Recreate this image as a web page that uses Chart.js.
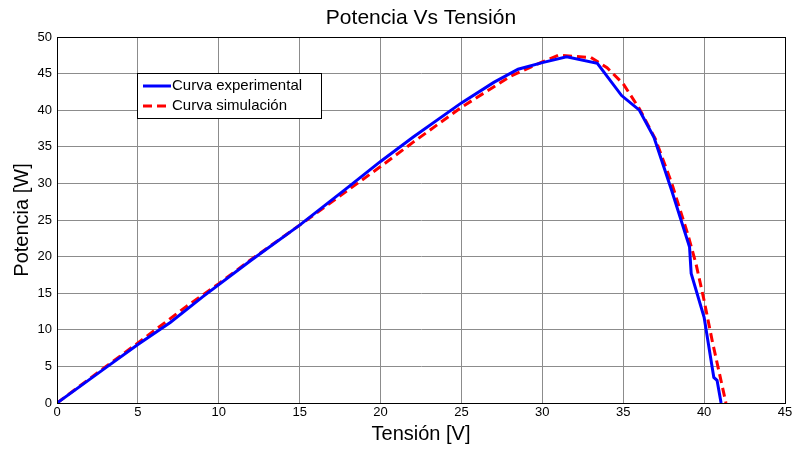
<!DOCTYPE html>
<html>
<head>
<meta charset="utf-8">
<script src="https://cdn.jsdelivr.net/npm/chart.js@4.4.1/dist/chart.umd.min.js"></script>
<style>
  html, body { margin: 0; padding: 0; background: #fff; }
  #wrap { width: 797px; height: 449px; }
</style>
</head>
<body>
<div id="wrap"><canvas id="grafico"></canvas></div>
<script>
// curva medida en el panel
const tensionExp = [0, 3, 5, 7, 9, 12, 15, 18, 20, 22, 25, 27, 28.5, 30, 31.5, 33.4, 34.9, 36, 36.9, 38, 39.1, 39.2, 40, 40.6, 40.8, 41.05];
const potenciaExp = [0, 4.8, 8, 11, 14.5, 19.5, 24.3, 29.5, 33, 36.3, 41, 43.8, 45.6, 46.5, 47.3, 46.4, 42, 40, 36.3, 29, 21.3, 17.7, 11.7, 3.5, 3.1, 0];

// curva del modelo
const tensionSim = [0, 2, 5, 8, 10, 12, 15, 18, 20, 22, 25, 28, 30, 31, 33, 34, 35, 36, 37, 38, 39, 39.5, 40, 40.5, 41, 41.35];
const potenciaSim = [0, 3.3, 8.2, 13.2, 16.3, 19.6, 24.3, 29.1, 32.3, 35.6, 40.4, 44.6, 46.6, 47.5, 47.2, 45.8, 43.6, 40.2, 36, 30, 23, 19, 14, 8.5, 3.5, 0];

const ticksX = [0, 5, 10, 15, 20, 25, 30, 35, 40, 45];
const ticksY = [0, 5, 10, 15, 20, 25, 30, 35, 40, 45, 50];

const etiquetas = ["Curva experimental", "Curva simulación"];

function puntos(xs, ys) {
  return xs.map((x, i) => ({ x: x, y: ys[i] }));
}

const fuente = "Arial, 'Liberation Sans', sans-serif";

// titulo, caja de ejes y leyenda dibujados a mano
const extras = {
  id: "extras",
  afterDraw(chart) {
    const ctx = chart.ctx;
    const a = chart.chartArea;
    ctx.save();
    ctx.strokeStyle = "#000";
    ctx.lineWidth = 1;
    ctx.strokeRect(a.left + 0.5, a.top + 0.5, a.right - a.left, a.bottom - a.top);

    ctx.fillStyle = "#000";
    ctx.font = "21px " + fuente;
    ctx.textAlign = "center";
    ctx.textBaseline = "middle";
    ctx.fillText("Potencia Vs Tensión", (a.left + a.right) / 2, 18);

    // leyenda
    const bx = 137, by = 73, bw = 184, bh = 45;
    ctx.fillStyle = "#fff";
    ctx.fillRect(bx, by, bw, bh);
    ctx.strokeStyle = "#000";
    ctx.strokeRect(bx + 0.5, by + 0.5, bw, bh);
    ctx.font = "15px " + fuente;
    ctx.textAlign = "left";
    chart.data.datasets.forEach((ds, i) => {
      const yy = by + 13 + i * 20;
      ctx.beginPath();
      ctx.strokeStyle = ds.borderColor;
      ctx.lineWidth = 3;
      ctx.setLineDash(ds.borderDash || []);
      ctx.moveTo(bx + 6, yy);
      ctx.lineTo(bx + 34, yy);
      ctx.stroke();
      ctx.setLineDash([]);
      ctx.fillStyle = "#000";
      ctx.fillText(ds.label, bx + 35, yy);
    });
    ctx.restore();
  }
};

new Chart(document.getElementById("grafico"), {
  type: "line",
  data: {
    datasets: [
      {
        label: etiquetas[0],
        data: puntos(tensionExp, potenciaExp),
        borderColor: "#0000ff",
        borderWidth: 3,
        pointRadius: 0,
        tension: 0
      },
      {
        label: etiquetas[1],
        data: puntos(tensionSim, potenciaSim),
        borderColor: "#ff0000",
        borderWidth: 3,
        borderDash: [9, 5],
        pointRadius: 0,
        tension: 0
      }
    ]
  },
  options: {
    responsive: true,
    maintainAspectRatio: false,
    animation: false,
    layout: { padding: { left: 0, top: 37, right: 12, bottom: 0 } },
    plugins: {
      legend: { display: false },
      tooltip: { enabled: false }
    },
    scales: {
      x: {
        type: "linear",
        min: 0,
        max: 45,
        afterBuildTicks: (s) => { s.ticks = ticksX.map((v) => ({ value: v })); },
        afterFit: (s) => { s.height = 46; },
        ticks: { color: "#000", font: { size: 13, family: fuente }, padding: 2, maxRotation: 0 },
        grid: { color: "#8c8c8c", drawTicks: false },
        border: { color: "#000" },
        title: { display: true, text: "Tensión [V]", color: "#000", font: { size: 20, family: fuente }, padding: { top: 0, bottom: 3 } }
      },
      y: {
        min: 0,
        max: 50,
        afterBuildTicks: (s) => { s.ticks = ticksY.map((v) => ({ value: v })); },
        afterFit: (s) => { s.width = 57; },
        ticks: { color: "#000", font: { size: 13, family: fuente }, padding: 5 },
        grid: { color: "#8c8c8c", drawTicks: false },
        border: { color: "#000" },
        title: { display: true, text: "Potencia [W]", color: "#000", font: { size: 20, family: fuente }, padding: { top: 10, bottom: 0 } }
      }
    }
  },
  plugins: [extras]
});
</script>
</body>
</html>
